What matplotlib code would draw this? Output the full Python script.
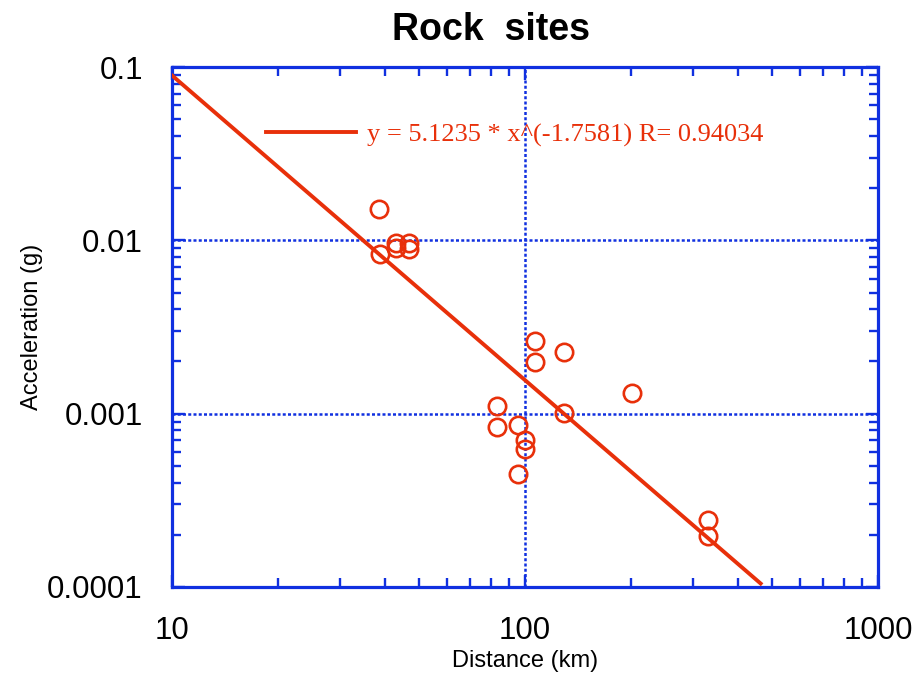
import numpy as np
import matplotlib
matplotlib.use("Agg")
import matplotlib.pyplot as plt
from matplotlib.ticker import LogLocator, FixedLocator, NullFormatter

# Data
distance_km = [38.6, 38.8, 43.1, 43.1, 46.9, 46.9, 83.3, 83.3, 95.5, 100.3,
               100.3, 95.5, 106.7, 106.7, 128.9, 128.9, 201, 330, 330]
accel_g = [0.0152, 0.00836, 0.00968, 0.00906, 0.00968, 0.0089, 0.00110, 0.00084,
           0.000865, 0.000708, 0.000628, 0.000451, 0.00264, 0.00199, 0.00227,
           0.00101, 0.00132, 0.000242, 0.000198]

fit_a = 5.1235
fit_b = -1.7581
fit_r = 0.94034
fit_range = [10, 465]

x_ticks = [10, 100, 1000]
x_tick_labels = ["10", "100", "1000"]
y_ticks = [0.0001, 0.001, 0.01, 0.1]
y_tick_labels = ["0.0001", "0.001", "0.01", "0.1"]

RED = "#e8300a"
BLUE = "#1030e0"

fig = plt.figure(figsize=(9.15, 6.77), dpi=100)
ax = fig.add_axes([0.188, 0.133, 0.7716, 0.768])

xf = np.logspace(np.log10(fit_range[0]), np.log10(fit_range[1]), 200)
yf = fit_a * xf ** fit_b
ax.plot(xf, yf, color=RED, lw=2.8,
        label="y = %.4f * x^(%.4f) R= %.5f" % (fit_a, fit_b, fit_r), zorder=3)
ax.plot(distance_km, accel_g, linestyle="none", marker="o", ms=12.5,
        mfc="none", mec=RED, mew=1.9, zorder=4)

ax.set_xscale("log")
ax.set_yscale("log")
ax.set_xlim(10, 1000)
ax.set_ylim(0.0001, 0.1)

ax.xaxis.set_major_locator(FixedLocator(x_ticks))
ax.set_xticklabels(x_tick_labels)
ax.yaxis.set_major_locator(FixedLocator(y_ticks))
ax.set_yticklabels(y_tick_labels)
ax.xaxis.set_minor_locator(LogLocator(base=10, subs=np.arange(2, 10)))
ax.yaxis.set_minor_locator(LogLocator(base=10, subs=np.arange(2, 10)))
ax.xaxis.set_minor_formatter(NullFormatter())
ax.yaxis.set_minor_formatter(NullFormatter())

ax.tick_params(which="both", direction="in", top=True, right=True,
               color=BLUE, width=1.7, labelsize=22.5, labelcolor="black",
               labelfontfamily="Liberation Sans")
ax.tick_params(which="major", length=9, pad=21)
ax.tick_params(which="minor", length=6.5)

for s in ax.spines.values():
    s.set_color(BLUE)
    s.set_linewidth(2.3)

ax.grid(which="major", color=BLUE, linestyle=(0, (1.2, 0.9)), linewidth=1.8)
ax.set_axisbelow(False)

ax.set_xlabel("Distance (km)", fontsize=17, family="Liberation Sans", labelpad=3)
ax.set_ylabel("Acceleration (g)", fontsize=17, family="Liberation Sans", labelpad=3)
fig.text(0.537, 0.955, "Rock  sites", fontsize=27, fontweight="bold",
         family="Liberation Sans", ha="center", va="center")

leg = ax.legend(loc="upper left", bbox_to_anchor=(0.1, 0.938), frameon=False,
                prop={"family": "Liberation Serif", "size": 19},
                handlelength=3.4, handletextpad=0.4)
for t in leg.get_texts():
    t.set_color(RED)

fig.savefig("out.png", dpi=100)
